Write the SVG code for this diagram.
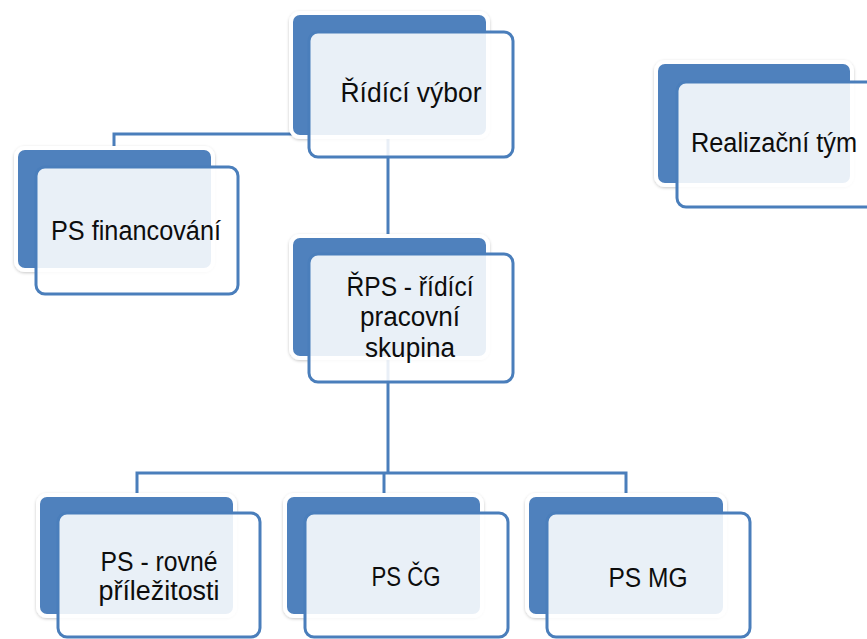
<svg xmlns="http://www.w3.org/2000/svg" width="867" height="639" viewBox="0 0 867 639">
<defs>
<filter id="sh" x="-10%" y="-10%" width="120%" height="120%">
<feDropShadow dx="0" dy="1" stdDeviation="1.5" flood-color="#000" flood-opacity="0.22"/>
</filter>
<style>
.back{fill:#4f81bd;stroke:#ffffff;stroke-width:4;filter:url(#sh)}
.front{fill:#ffffff;fill-opacity:0.88;stroke:#4a7ebb;stroke-width:3}
.conn{fill:none;stroke:#4a7ebb;stroke-width:3}
.lbl{font-family:"Liberation Sans",Arial,sans-serif;font-size:27px;fill:#0d0d0d;text-anchor:middle}
</style>
</defs>
<rect width="867" height="639" fill="#ffffff"/>
<g id="connectors">
<path class="conn" d="M388 137 V236"/>
<path class="conn" d="M388 134 H114 V148"/>
<path class="conn" d="M388 358 V473"/>
<path class="conn" d="M137 495 V473 H626 V495"/>
<path class="conn" d="M384 473 V495"/>
</g>
<g id="node-ridici-vybor">
<rect class="back" x="291" y="13" width="197" height="124" rx="9"/>
<rect class="front" x="309" y="32" width="204" height="125" rx="9"/>
<text class="lbl" x="411" y="102" textLength="141" lengthAdjust="spacingAndGlyphs">Řídící výbor</text>
</g>
<g id="node-realizacni-tym">
<rect class="back" x="656" y="62" width="196" height="123" rx="9"/>
<rect class="front" x="677" y="82" width="204" height="125" rx="9"/>
<text class="lbl" x="774" y="152" textLength="166" lengthAdjust="spacingAndGlyphs">Realizační tým</text>
</g>
<g id="node-ps-financovani">
<rect class="back" x="16" y="148" width="197" height="122" rx="9"/>
<rect class="front" x="36" y="167" width="202" height="127" rx="9"/>
<text class="lbl" x="136" y="240" textLength="170" lengthAdjust="spacingAndGlyphs">PS financování</text>
</g>
<g id="node-rps">
<rect class="back" x="291" y="236" width="197" height="122" rx="9"/>
<rect class="front" x="309" y="254" width="204" height="128" rx="9"/>
<text class="lbl" x="410" y="296" textLength="127" lengthAdjust="spacingAndGlyphs">ŘPS - řídící</text>
<text class="lbl" x="410" y="326" textLength="100" lengthAdjust="spacingAndGlyphs">pracovní</text>
<text class="lbl" x="410" y="357" textLength="90" lengthAdjust="spacingAndGlyphs">skupina</text>
</g>
<g id="node-ps-rovne">
<rect class="back" x="38" y="495" width="197" height="121" rx="9"/>
<rect class="front" x="58" y="513" width="202" height="124" rx="9"/>
<text class="lbl" x="159" y="571" textLength="117" lengthAdjust="spacingAndGlyphs">PS - rovné</text>
<text class="lbl" x="159" y="600" textLength="121" lengthAdjust="spacingAndGlyphs">příležitosti</text>
</g>
<g id="node-ps-cg">
<rect class="back" x="285" y="495" width="197" height="121" rx="9"/>
<rect class="front" x="305" y="513" width="203" height="124" rx="9"/>
<text class="lbl" x="406" y="586" textLength="69" lengthAdjust="spacingAndGlyphs">PS ČG</text>
</g>
<g id="node-ps-mg">
<rect class="back" x="527" y="495" width="198" height="121" rx="9"/>
<rect class="front" x="547" y="513" width="203" height="124" rx="9"/>
<text class="lbl" x="648" y="587" textLength="79" lengthAdjust="spacingAndGlyphs">PS MG</text>
</g>
</svg>
